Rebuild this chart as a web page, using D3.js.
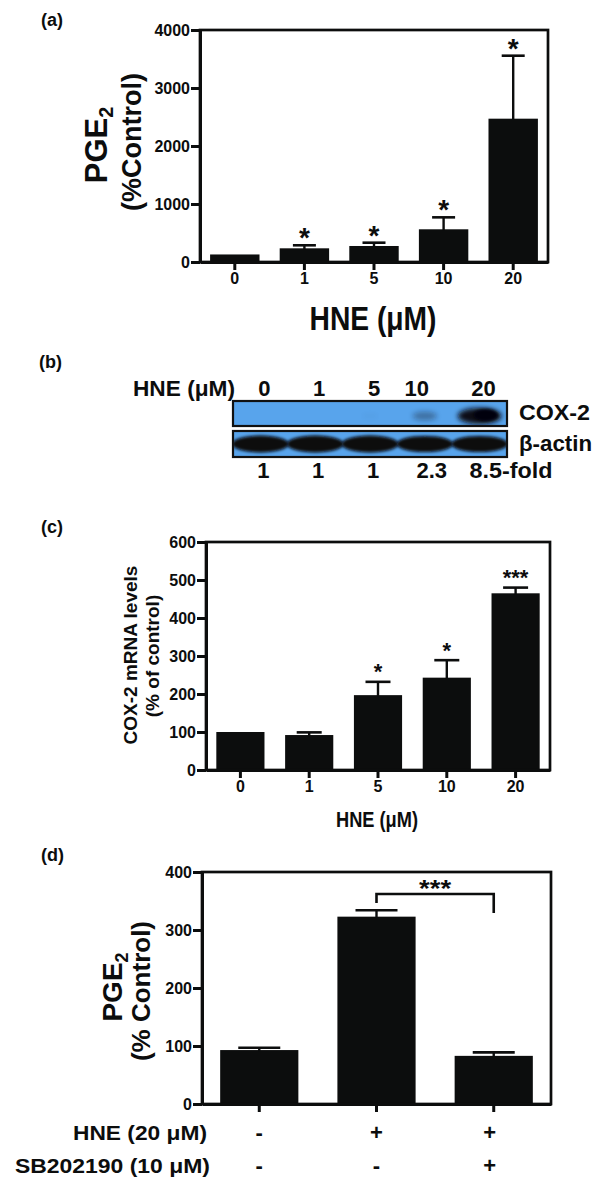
<!DOCTYPE html>
<html><head><meta charset="utf-8">
<script src="https://cdn.jsdelivr.net/npm/d3@7"></script>
<style>html,body{margin:0;padding:0;background:#fff;}svg{display:block;}</style>
</head><body>
<script>
// ---------- DATA ----------
// Panel (a): PGE2 (%Control) vs HNE (µM)
const aCategories = ["0", "1", "5", "10", "20"];
const aMeans = [130, 236, 276, 564, 2471];
const aErrors = [0, 52, 57, 206, 1086];
const aSig = ["", "*", "*", "*", "*"];
const aTicks = [0, 1000, 2000, 3000, 4000];

// Panel (b): western blot
const blotLanes = ["0", "1", "5", "10", "20"];
const cox2Signal = [0, 0, 0.02, 0.3, 1];
const actinSignal = [1, 1, 1, 0.95, 0.95];
const foldLabels = ["1", "1", "1", "2.3", "8.5-fold"];

// Panel (c): COX-2 mRNA levels (% of control)
const cCategories = ["0", "1", "5", "10", "20"];
const cMeans = [100, 92, 197, 243, 465];
const cErrors = [0, 7, 35, 46, 15];
const cSig = ["", "", "*", "*", "***"];
const cTicks = [0, 100, 200, 300, 400, 500, 600];

// Panel (d): PGE2 (% Control), HNE ± SB202190
const dCategories = ["ctrl", "HNE", "HNE+SB"];
const dMeans = [93, 323, 83];
const dErrors = [4, 11, 6];
const dHNE = ["-", "+", "+"];
const dSB = ["-", "-", "+"];
const dTicks = [0, 100, 200, 300, 400];
const dBracket = {from: "HNE", to: "HNE+SB", level: 362, leftDrop: 9, rightDrop: 19, label: "***"};

// ---------- DRAW ----------
const FONT = "'Liberation Sans', Arial, Helvetica, sans-serif";
const INK = "#0c0d0d";
const svg = d3.select("body").append("svg").attr("width", 600).attr("height", 1194)
  .style("font-family", FONT).style("font-weight", "bold");
svg.append("rect").attr("width", 600).attr("height", 1194).attr("fill", "#fff");

function txt(g, s, x, y, size, anchor, len) {
  const t = g.append("text").attr("x", x).attr("y", y).attr("font-size", size)
    .attr("text-anchor", anchor || "start").attr("fill", INK).text(s);
  if (len) t.attr("textLength", len).attr("lengthAdjust", "spacingAndGlyphs");
  return t;
}

function barPanel(o) {
  const g = svg.append("g");
  const x = d3.scaleBand().domain(o.cats).range([o.left, o.right]).paddingInner(o.padIn).paddingOuter(o.padOut);
  const y = d3.scaleLinear().domain([0, o.yMax]).range([o.bottom, o.top]);
  g.selectAll("rect.bar").data(o.cats).join("rect").attr("class", "bar")
    .attr("x", d => x(d)).attr("width", x.bandwidth())
    .attr("y", (d, i) => y(o.means[i])).attr("height", (d, i) => y(0) - y(o.means[i]))
    .attr("fill", INK);
  o.cats.forEach((c, i) => {
    const cx = x(c) + x.bandwidth() / 2;
    if (o.errs[i]) {
      const top = y(o.means[i] + o.errs[i]);
      g.append("line").attr("x1", cx).attr("x2", cx).attr("y1", y(o.means[i]) + 1).attr("y2", top)
        .attr("stroke", INK).attr("stroke-width", 2.4);
      g.append("line").attr("x1", cx - o.capW / 2).attr("x2", cx + o.capW / 2).attr("y1", top).attr("y2", top)
        .attr("stroke", INK).attr("stroke-width", 2.6);
    }
    if (o.sigs && o.sigs[i]) {
      const top = y(o.means[i] + o.errs[i]);
      txt(g, o.sigs[i], cx, top - o.starGap + 0.57 * o.starSize, o.starSize, "middle");
    }
  });
  g.append("rect").attr("x", o.left).attr("y", o.top).attr("width", o.right - o.left).attr("height", o.bottom - o.top)
    .attr("fill", "none").attr("stroke", INK).attr("stroke-width", 2.7);
  const ya = g.append("g").attr("transform", `translate(${o.left},0)`)
    .call(d3.axisLeft(y).tickValues(o.yTicks).tickFormat(d3.format("d")).tickSize(9).tickPadding(1).tickSizeOuter(0));
  const xa = g.append("g").attr("transform", `translate(0,${o.bottom})`)
    .call(d3.axisBottom(x).tickSize(8).tickPadding(3).tickSizeOuter(0));
  [ya, xa].forEach(a => {
    a.select(".domain").attr("stroke", INK).attr("stroke-width", 3);
    a.selectAll(".tick line").attr("stroke", INK).attr("stroke-width", 3);
    a.selectAll(".tick text").attr("fill", INK).attr("font-size", o.tickFont)
      .attr("font-family", FONT).attr("font-weight", "bold");
  });
  if (!o.xLabels) xa.selectAll(".tick text").remove();
  return {g, x, y};
}

// ===== Panel (a) =====
txt(svg, "(a)", 41, 26, 18);
barPanel({left: 200, right: 548, top: 30, bottom: 262, cats: aCategories, means: aMeans, errs: aErrors,
  sigs: aSig, yMax: 4000, yTicks: aTicks, padIn: 0.29, padOut: 0.145, capW: 23, tickFont: 16,
  starSize: 28, starGap: 14, xLabels: true});
{
  const t = svg.append("text").attr("transform", "translate(107,145) rotate(-90)")
    .attr("text-anchor", "middle").attr("font-size", 31).attr("fill", INK);
  t.append("tspan").text("PGE");
  t.append("tspan").attr("font-size", 20).attr("dy", 6).text("2");
  svg.append("text").attr("transform", "translate(141,142) rotate(-90)")
    .attr("text-anchor", "middle").attr("font-size", 27).attr("fill", INK).text("(%Control)");
}
txt(svg, "HNE (\u03bcM)", 373, 330, 33, "middle", 127);

// ===== Panel (b) =====
txt(svg, "(b)", 39, 368, 18);
{
  const g = svg.append("g");
  const defs = svg.append("defs");
  defs.append("filter").attr("id", "blur").attr("x", "-20%").attr("y", "-50%").attr("width", "140%").attr("height", "200%")
    .append("feGaussianBlur").attr("stdDeviation", 1.6);
  defs.append("filter").attr("id", "blur2").attr("x", "-30%").attr("y", "-80%").attr("width", "160%").attr("height", "260%")
    .append("feGaussianBlur").attr("stdDeviation", 2.4);
  const lx = d3.scaleBand().domain(blotLanes).range([233, 507]);
  const coxY = [401, 426], actY = [431, 457];
  defs.append("clipPath").attr("id", "clipCox").append("rect").attr("x", 233).attr("y", coxY[0]).attr("width", 274).attr("height", coxY[1] - coxY[0]);
  defs.append("clipPath").attr("id", "clipAct").append("rect").attr("x", 233).attr("y", actY[0]).attr("width", 274).attr("height", actY[1] - actY[0]);
  g.append("rect").attr("x", 233).attr("y", coxY[0]).attr("width", 274).attr("height", coxY[1] - coxY[0]).attr("fill", "#58a4ec");
  g.append("rect").attr("x", 233).attr("y", actY[0]).attr("width", 274).attr("height", actY[1] - actY[0]).attr("fill", "#58a4ec");
  const cg = g.append("g").attr("clip-path", "url(#clipCox)");
  blotLanes.forEach((l, i) => {
    if (!cox2Signal[i]) return;
    const cx = lx(l) + lx.bandwidth() / 2;
    const s = cox2Signal[i];
    cg.append("ellipse").attr("cx", cx).attr("cy", 416).attr("rx", 8 + 14 * s).attr("ry", 3 + 5 * s)
      .attr("fill", "#0b0c18").attr("opacity", Math.min(1, s * 1.1)).attr("filter", "url(#blur2)");
    if (s > 0.5) {
      cg.append("ellipse").attr("cx", cx + 6).attr("cy", 415).attr("rx", 12 * s).attr("ry", 6 * s)
        .attr("fill", "#05050a").attr("filter", "url(#blur)");
    }
  });
  const ag = g.append("g").attr("clip-path", "url(#clipAct)");
  blotLanes.forEach((l, i) => {
    const cx = lx(l) + lx.bandwidth() / 2;
    ag.append("ellipse").attr("cx", cx).attr("cy", 444).attr("rx", lx.bandwidth() / 2 + 1).attr("ry", 8.5 * actinSignal[i])
      .attr("fill", "#07070d").attr("filter", "url(#blur)");
  });
  g.append("rect").attr("x", 233).attr("y", coxY[0]).attr("width", 274).attr("height", coxY[1] - coxY[0]).attr("fill", "none").attr("stroke", "#111").attr("stroke-width", 2.2);
  g.append("rect").attr("x", 233).attr("y", actY[0]).attr("width", 274).attr("height", actY[1] - actY[0]).attr("fill", "none").attr("stroke", "#111").attr("stroke-width", 2.2);
  txt(g, "HNE (\u03bcM)", 235, 396, 22, "end", 102);
  blotLanes.forEach((l, i) => {
    const cx = lx(l) + lx.bandwidth() / 2;
    txt(g, l, cx + (i === 3 ? -8 : 4), 396, 22, "middle");
    if (i === blotLanes.length - 1) txt(g, foldLabels[i], cx - 10, 478, 22, "start", 83);
    else txt(g, foldLabels[i], cx + (i === 3 ? 7 : 3), 478, 22, "middle");
  });
  txt(g, "COX-2", 519, 420, 22, "start", 71);
  txt(g, "\u03b2-actin", 519, 451, 22, "start", 73);
}

// ===== Panel (c) =====
txt(svg, "(c)", 41, 533, 18);
barPanel({left: 206, right: 550, top: 542, bottom: 770, cats: cCategories, means: cMeans, errs: cErrors,
  sigs: cSig, yMax: 600, yTicks: cTicks, padIn: 0.3, padOut: 0.15, capW: 25, tickFont: 16,
  starSize: 22, starGap: 15, xLabels: true});
svg.append("text").attr("transform", "translate(137,655) rotate(-90)").attr("text-anchor", "middle")
  .attr("font-size", 19).attr("fill", INK).text("COX-2 mRNA levels");
svg.append("text").attr("transform", "translate(159,656) rotate(-90)").attr("text-anchor", "middle")
  .attr("font-size", 19).attr("fill", INK).text("(% of control)");
txt(svg, "HNE (\u03bcM)", 377, 827, 22, "middle", 82);

// ===== Panel (d) =====
txt(svg, "(d)", 41, 861, 18);
{
  const p = barPanel({left: 202, right: 551, top: 872, bottom: 1104, cats: dCategories, means: dMeans, errs: dErrors,
    sigs: null, yMax: 400, yTicks: dTicks, padIn: 0.333, padOut: 0.155, capW: 42, tickFont: 16, xLabels: false});
  const c1 = p.x(dBracket.from) + p.x.bandwidth() / 2, c2 = p.x(dBracket.to) + p.x.bandwidth() / 2;
  const yb = p.y(dBracket.level);
  p.g.append("path").attr("d", `M${c1},${yb + dBracket.leftDrop}V${yb}H${c2}V${yb + dBracket.rightDrop}`)
    .attr("fill", "none").attr("stroke", INK).attr("stroke-width", 2.6);
  txt(p.g, dBracket.label, (c1 + c2) / 2, yb - 11 + 0.57 * 24, 24, "middle", 32);
  dCategories.forEach((c, i) => {
    const cx = p.x(c) + p.x.bandwidth() / 2 - (i === 2 ? 4 : 0);
    txt(p.g, dHNE[i], cx, 1140, 22, "middle");
    txt(p.g, dSB[i], cx, 1173, 22, "middle");
  });
  const t = svg.append("text").attr("transform", "translate(122,987) rotate(-90)")
    .attr("text-anchor", "middle").attr("font-size", 28).attr("fill", INK);
  t.append("tspan").text("PGE");
  t.append("tspan").attr("font-size", 18).attr("dy", 6).text("2");
  svg.append("text").attr("transform", "translate(150,991) rotate(-90)").attr("text-anchor", "middle")
    .attr("font-size", 26).attr("fill", INK).text("(% Control)");
  txt(svg, "HNE (20 \u03bcM)", 207, 1140, 20, "end", 134);
  txt(svg, "SB202190 (10 \u03bcM)", 210, 1173, 20, "end", 195);
}
</script>
</body></html>
